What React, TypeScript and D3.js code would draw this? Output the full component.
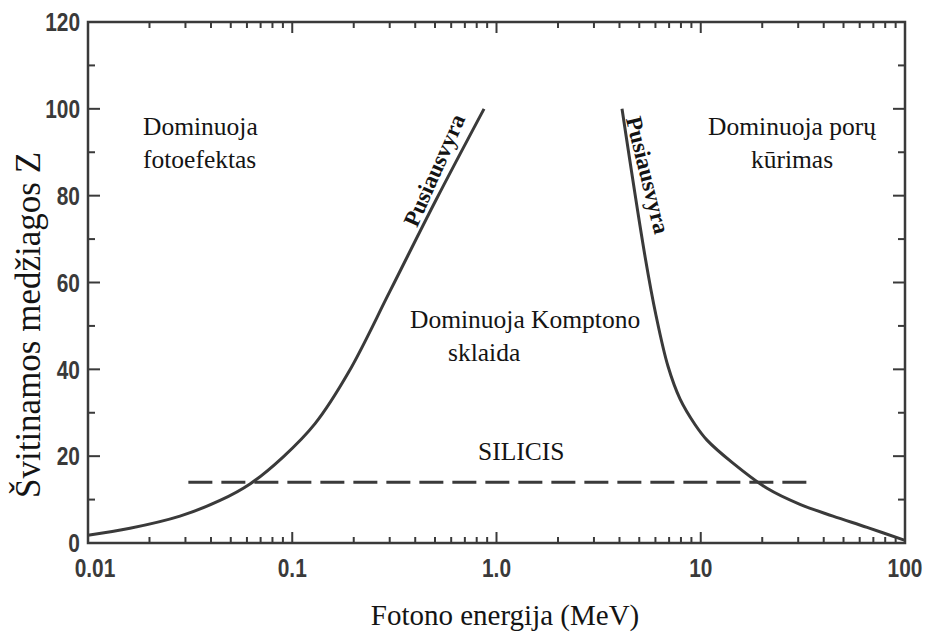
import React from "react";
import * as d3 from "d3";

// Photon energy (MeV) / absorber Z where photoelectric ≈ Compton
const photoEnergy = [0.01, 0.01605, 0.0282, 0.0443, 0.0621, 0.0901, 0.1293, 0.1896, 0.301, 0.5055, 0.8687];
const photoZ = [1.8, 3.4, 6.2, 9.8, 13.6, 19.8, 27.5, 39.5, 58, 79, 100];

// Photon energy (MeV) / absorber Z where Compton ≈ pair production
const pairEnergy = [4.116, 5.336, 6.04, 6.913, 7.913, 9.37, 10.73, 14.38, 21.11, 30.6, 44.4, 65.2, 100];
const pairZ = [100, 66, 52.4, 40.7, 33.2, 27.3, 23.7, 18.4, 12.6, 8.9, 6.2, 3.6, 0.6];

// Silicon reference line
const siliconZ = 14;
const siliconRange = [0.031, 36];

const xTickValues = [0.01, 0.1, 1, 10, 100];
const xTickLabels = ["0.01", "0.1", "1.0", "10", "100"];
const yTickValues = [0, 20, 40, 60, 80, 100, 120];

const W = 926;
const H = 635;
const left = 88;
const right = 905;
const top = 22;
const bottom = 543;

const INK = "#3a3a3a";
const TEXT = "#141414";
const SERIF = "'Liberation Serif', 'Times New Roman', Times, serif";
const SANS = "'Liberation Sans', Arial, sans-serif";
const NARROW_X = 0.82;

export default function App() {
  const x = d3.scaleLog().domain([0.01, 100]).range([left, right]);
  const y = d3.scaleLinear().domain([0, 120]).range([bottom, top]);

  const line = d3
    .line<[number, number]>()
    .x((d) => x(d[0]))
    .y((d) => y(d[1]))
    .curve(d3.curveCatmullRom.alpha(0.5));

  const photoPath = line(photoEnergy.map((e, i) => [e, photoZ[i]] as [number, number])) || "";
  const pairPath = line(pairEnergy.map((e, i) => [e, pairZ[i]] as [number, number])) || "";

  // minor log ticks: 2..9 within each decade
  const minorX: number[] = [];
  for (let p = -2; p < 2; p++) {
    for (let k = 2; k <= 9; k++) minorX.push(k * Math.pow(10, p));
  }
  const minorY = d3.range(10, 120, 20);

  const majorLenX = 11;
  const minorLenX = 6;
  const majorLenY = 12;
  const minorLenY = 7;

  return (
    <svg width={W} height={H} style={{ position: "absolute", left: 0, top: 0, background: "#fff" }}>
      <rect x={0} y={0} width={W} height={H} fill="#fff" />

      {/* ticks on all four sides, pointing inward */}
      <g stroke={INK} strokeWidth={2}>
        {xTickValues.map((v) => (
          <g key={"xM" + v}>
            <line x1={x(v)} x2={x(v)} y1={bottom} y2={bottom - majorLenX} />
            <line x1={x(v)} x2={x(v)} y1={top} y2={top + majorLenX} />
          </g>
        ))}
        {minorX.map((v) => (
          <g key={"xm" + v}>
            <line x1={x(v)} x2={x(v)} y1={bottom} y2={bottom - minorLenX} />
            <line x1={x(v)} x2={x(v)} y1={top} y2={top + minorLenX} />
          </g>
        ))}
        {yTickValues.map((v) => (
          <g key={"yM" + v}>
            <line x1={left} x2={left + majorLenY} y1={y(v)} y2={y(v)} />
            <line x1={right} x2={right - majorLenY} y1={y(v)} y2={y(v)} />
          </g>
        ))}
        {minorY.map((v) => (
          <g key={"ym" + v}>
            <line x1={left} x2={left + minorLenY} y1={y(v)} y2={y(v)} />
            <line x1={right} x2={right - minorLenY} y1={y(v)} y2={y(v)} />
          </g>
        ))}
      </g>

      {/* frame */}
      <rect
        x={left}
        y={top}
        width={right - left}
        height={bottom - top}
        fill="none"
        stroke={INK}
        strokeWidth={2.5}
      />

      {/* silicon line */}
      <line
        x1={x(siliconRange[0])}
        x2={x(siliconRange[1])}
        y1={y(siliconZ)}
        y2={y(siliconZ)}
        stroke={INK}
        strokeWidth={3}
        strokeDasharray="24 9"
      />

      {/* boundary curves */}
      <path d={photoPath} fill="none" stroke={INK} strokeWidth={3} />
      <path d={pairPath} fill="none" stroke={INK} strokeWidth={3} />

      {/* tick labels in a condensed bold face */}
      <g style={{ fontFamily: SANS }} fontWeight="bold" fontSize={25.5} fill="#3a3a3a">
        {yTickValues.map((v) => (
          <text
            key={"yl" + v}
            transform={`translate(80, ${y(v)}) scale(${NARROW_X}, 1)`}
            dy="0.36em"
            textAnchor="end"
          >
            {v}
          </text>
        ))}
        {xTickValues.map((v, i) => (
          <text
            key={"xl" + v}
            transform={`translate(${x(v) + (i === 0 ? 7 : 0)}, 577) scale(${NARROW_X}, 1)`}
            textAnchor="middle"
          >
            {xTickLabels[i]}
          </text>
        ))}
      </g>

      {/* axis titles */}
      <text x={505} y={625} textAnchor="middle" style={{ fontFamily: SERIF }} fontSize={29} fill={TEXT}>
        Fotono energija (MeV)
      </text>
      <text
        transform={`translate(40, 325) rotate(-90)`}
        textAnchor="middle"
        style={{ fontFamily: SERIF }}
        fontSize={35}
        fill={TEXT}
      >
        Švitinamos medžiagos Z
      </text>

      {/* region labels */}
      <g style={{ fontFamily: SERIF }} fontSize={25.5} fill={TEXT}>
        <text x={143} y={135}>Dominuoja</text>
        <text x={143} y={168}>fotoefektas</text>

        <text x={792} y={135} textAnchor="middle">Dominuoja porų</text>
        <text x={792} y={168} textAnchor="middle">kūrimas</text>

        <text x={410} y={328}>Dominuoja Komptono</text>
        <text x={448} y={361}>sklaida</text>

        <text x={478} y={460}>SILICIS</text>
      </g>

      {/* curve labels */}
      <g style={{ fontFamily: SERIF }} fontSize={23} fontWeight="bold" fill={TEXT}>
        <text transform="translate(434, 170) rotate(-66)" textAnchor="middle" dy="0.35em">
          Pusiausvyra
        </text>
        <text transform="translate(648, 175) rotate(76)" textAnchor="middle" dy="0.35em">
          Pusiausvyra
        </text>
      </g>
    </svg>
  );
}
